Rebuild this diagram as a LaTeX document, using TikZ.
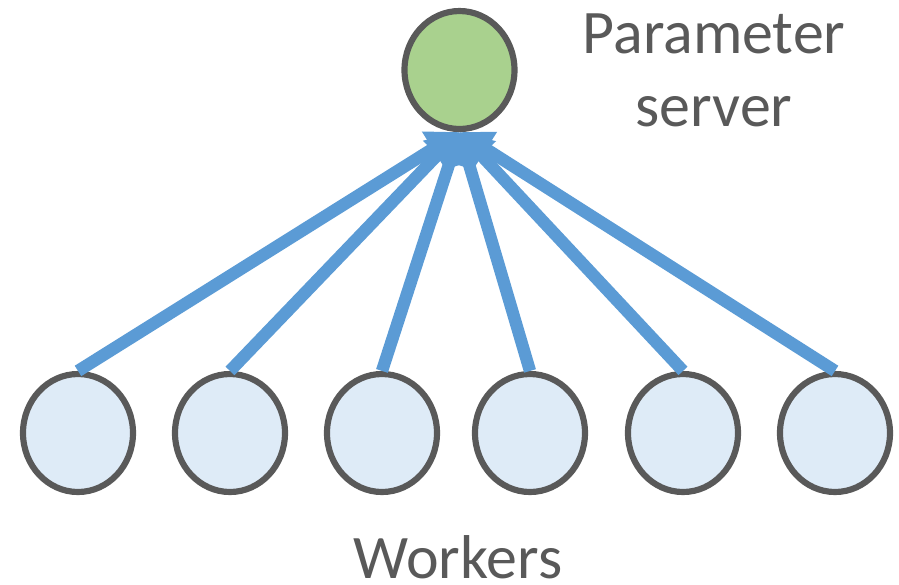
\documentclass[tikz,border=0pt]{standalone}
\usepackage{fontspec}
\setmainfont{Carlito}
\usetikzlibrary{arrows.meta,shapes.geometric}
\definecolor{edgegray}{HTML}{595959}
\definecolor{servergreen}{HTML}{A9D18E}
\definecolor{workerblue}{HTML}{DEEBF7}
\definecolor{arrowblue}{HTML}{5B9BD5}
\tikzset{
  psnode/.style={ellipse, draw=edgegray, line width=1.75pt, fill=servergreen, minimum width=110*0.01cm, minimum height=118*0.01cm, inner sep=0},
  wnode/.style={ellipse, draw=edgegray, line width=1.75pt, fill=workerblue, minimum width=110*0.01cm, minimum height=118*0.01cm, inner sep=0},
  link/.style={draw=arrowblue, line width=3.5pt, -{Triangle[length=9pt,width=11pt]}},
  lbl/.style={text=edgegray, font=\fontsize{17.6pt}{20.8pt}\selectfont, inner sep=0, align=center}
}
\begin{document}
\begin{tikzpicture}[x=0.01cm,y=-0.01cm]
\useasboundingbox (0,0) rectangle (899,584);
\node[psnode] (ps) at (459.5,70) {};
\node[wnode] (w1) at (78,433) {};
\node[wnode] (w2) at (230,433) {};
\node[wnode] (w3) at (382,433) {};
\node[wnode] (w4) at (530,433) {};
\node[wnode] (w5) at (683,433) {};
\node[wnode] (w6) at (835,433) {};
\foreach \w in {w1,w2,w3,w4,w5,w6}{
  \draw[link] (\w.north) -- (ps.south);
}
\node[lbl] (pslabel) at (714,70) {Parameter\\server};
\node[lbl, anchor=base] (wlabel) at (458,578) {Workers};
\end{tikzpicture}
\end{document}
